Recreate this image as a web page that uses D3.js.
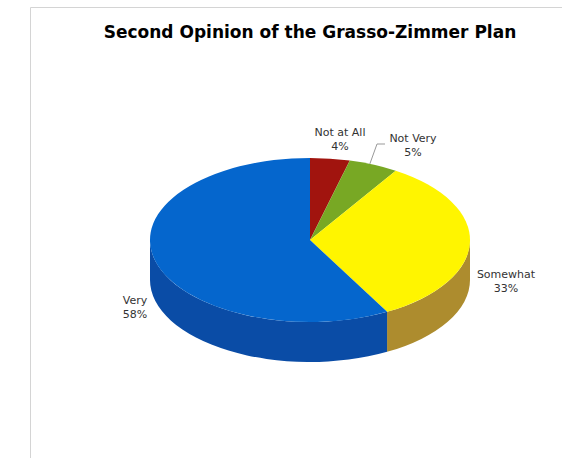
<!DOCTYPE html>
<html>
<head>
<meta charset="utf-8">
<script src="https://cdn.jsdelivr.net/npm/d3@7"></script>
<style>
  body { margin: 0; background: #fff; }
  svg { display: block; }
</style>
</head>
<body>
<div id="chart"></div>
<script>
var categories = ["Not at All", "Not Very", "Somewhat", "Very"],
    values = [4, 5, 33, 58],
    topColors = ["#a1140e", "#78a824", "#fff500", "#0566cd"],
    sideColors = ["#7a0f0a", "#5a7e1b", "#ad8c2e", "#0a4ca6"];

var width = 562,
    height = 458,
    cx = 310, cy = 240,
    rx = 160, ry = 82,
    depth = 40;

// label anchors relative to the pie centre
var labelPos = {
  "Not at All": [30, -100],
  "Not Very": [103, -94],
  "Somewhat": [196, 42],
  "Very": [-175, 68]
};

var data = categories.map(function(c, i) { return {name: c, value: values[i]}; });

var topColor = d3.scaleOrdinal().domain(categories).range(topColors),
    sideColor = d3.scaleOrdinal().domain(categories).range(sideColors);

var pie = d3.pie().sort(null).value(function(d) { return d.value; });
var arcs = pie(data);

var svg = d3.select("#chart").append("svg")
    .attr("width", width)
    .attr("height", height);

// frame
svg.append("path")
    .attr("d", "M30.5,458 L30.5,7.5 L562,7.5")
    .attr("fill", "none")
    .attr("stroke", "#d4d4d4");

svg.append("text")
    .attr("x", 310)
    .attr("y", 38)
    .attr("text-anchor", "middle")
    .style("font-family", "DejaVu Sans, Verdana, sans-serif")
    .style("font-weight", "bold")
    .style("font-size", "17px")
    .text("Second Opinion of the Grasso-Zimmer Plan");

function pt(a, dy) {
  return [cx + rx * Math.sin(a), cy - ry * Math.cos(a) + (dy || 0)];
}

function topPath(d) {
  var p0 = pt(d.startAngle), p1 = pt(d.endAngle),
      large = d.endAngle - d.startAngle > Math.PI ? 1 : 0;
  return "M" + cx + "," + cy + "L" + p0 + "A" + rx + "," + ry + " 0 " + large + " 1 " + p1 + "Z";
}

function sidePath(d) {
  var s = Math.max(d.startAngle, Math.PI / 2),
      e = Math.min(d.endAngle, 3 * Math.PI / 2);
  if (e <= s) return null;
  var a = pt(s), b = pt(e), b2 = pt(e, depth), a2 = pt(s, depth);
  return "M" + a + "A" + rx + "," + ry + " 0 0 1 " + b +
         "L" + b2 + "A" + rx + "," + ry + " 0 0 0 " + a2 + "Z";
}

var g = svg.append("g");

g.selectAll(".side")
    .data(arcs.filter(function(d) { return sidePath(d); }))
    .enter().append("path")
    .attr("class", "side")
    .attr("d", sidePath)
    .attr("fill", function(d) { return sideColor(d.data.name); });

g.selectAll(".top")
    .data(arcs)
    .enter().append("path")
    .attr("class", "top")
    .attr("d", topPath)
    .attr("fill", function(d) { return topColor(d.data.name); });

// leader line for the small "Not Very" slice
var nv = arcs[1],
    lp = pt(nv.startAngle + (nv.endAngle - nv.startAngle) * 0.42);
svg.append("path")
    .attr("d", "M" + lp + "L" + (cx + 67) + "," + (cy - 96) + "L" + (cx + 75) + "," + (cy - 96))
    .attr("fill", "none")
    .attr("stroke", "#999")
    .attr("stroke-width", 1);

var labels = svg.selectAll(".label")
    .data(arcs)
    .enter().append("text")
    .attr("class", "label")
    .attr("text-anchor", "middle")
    .attr("transform", function(d) {
      var o = labelPos[d.data.name];
      return "translate(" + (cx + o[0]) + "," + (cy + o[1]) + ")";
    })
    .style("font-family", "DejaVu Sans, Verdana, sans-serif")
    .style("font-size", "11px")
    .style("fill", "#333");

labels.append("tspan")
    .attr("x", 0)
    .attr("y", -4)
    .text(function(d) { return d.data.name; });

labels.append("tspan")
    .attr("x", 0)
    .attr("y", 10)
    .text(function(d) { return d.data.value + "%"; });
</script>
</body>
</html>
